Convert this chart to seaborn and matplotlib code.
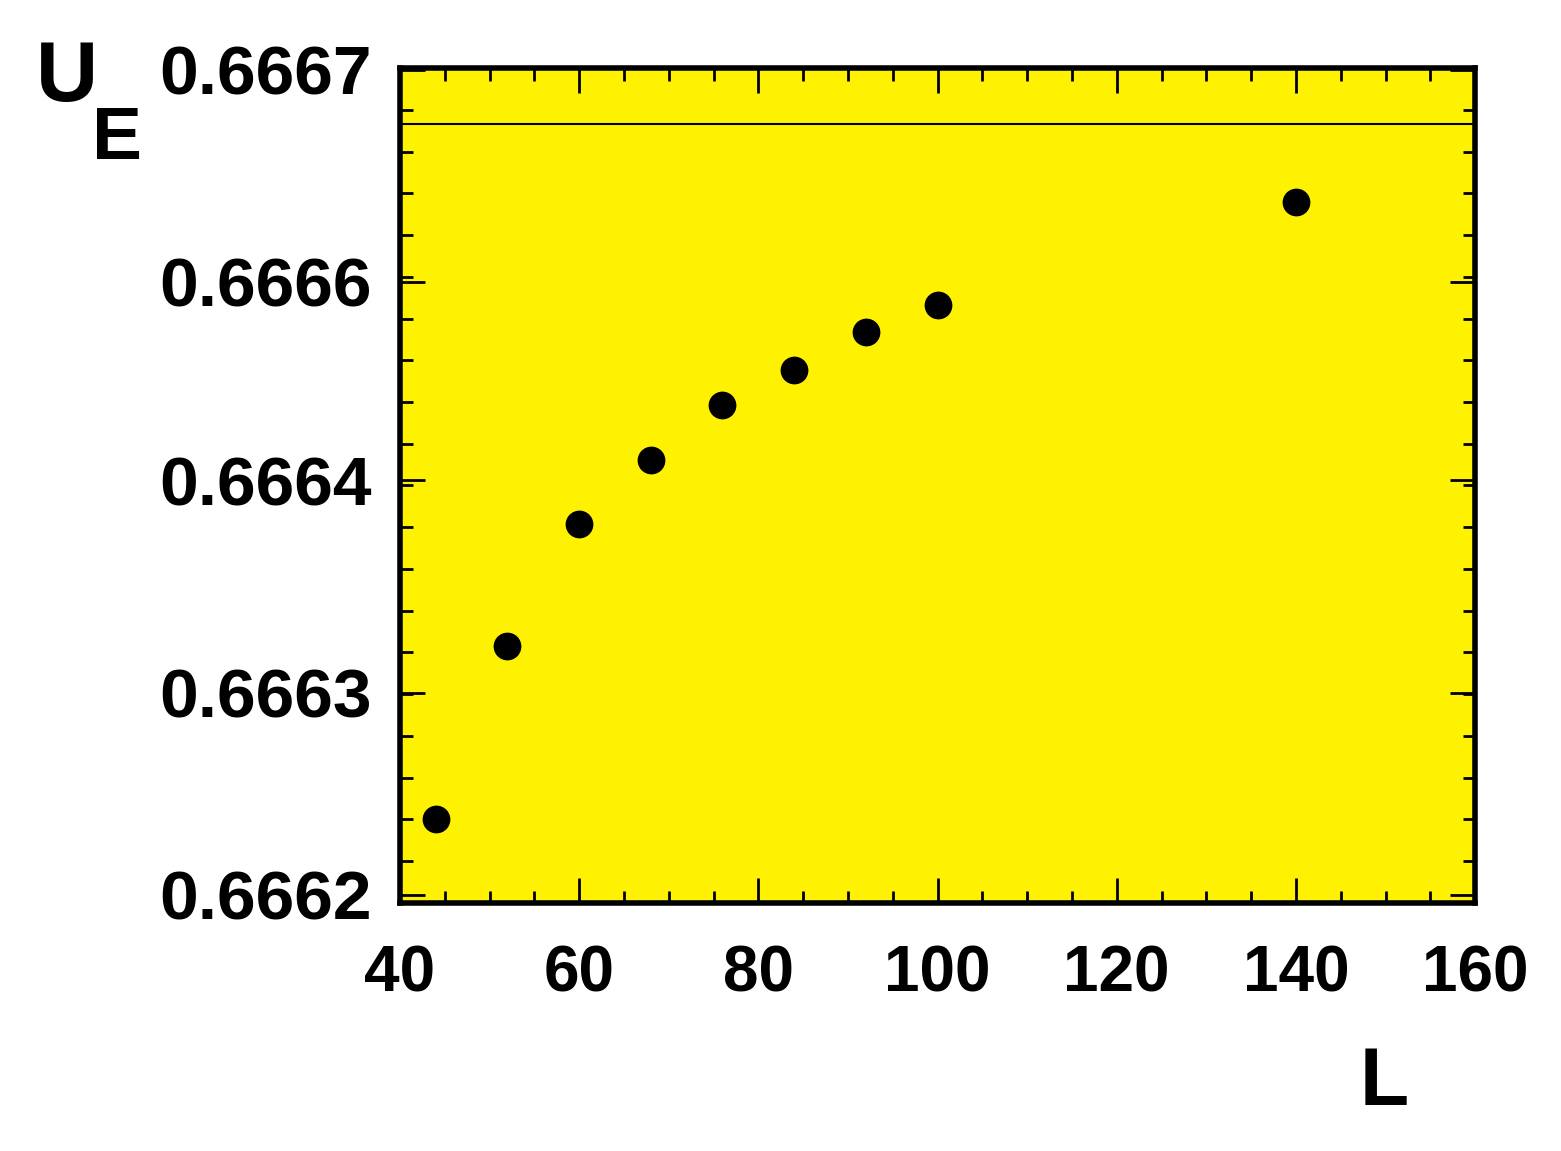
import numpy as np
import pandas as pd
import seaborn as sns
import matplotlib.pyplot as plt

# data
L = [44, 52, 60, 68, 76, 84, 92, 100, 140]
U_E = [0.666250, 0.666354, 0.666427, 0.666465, 0.666498, 0.666519, 0.666542, 0.666558, 0.666620]
limit = 2.0 / 3.0

xticks = [40, 60, 80, 100, 120, 140, 160]
ytick_pos = [0.666699, 0.666572, 0.666453, 0.666326, 0.666205]
ytick_labels = ["0.6667", "0.6666", "0.6664", "0.6663", "0.6662"]

df = pd.DataFrame({"L": L, "U_E": U_E})

sns.set_theme(style="ticks")
plt.rcParams['font.family'] = ['Liberation Sans', 'DejaVu Sans']
plt.rcParams['font.weight'] = 'bold'
plt.rcParams['text.color'] = 'black'
plt.rcParams['xtick.color'] = 'black'
plt.rcParams['ytick.color'] = 'black'
plt.rcParams['axes.labelcolor'] = 'black'

fig = plt.figure(figsize=(15.61, 11.51), dpi=100)
ax = fig.add_axes([0.2562, 0.2155, 0.6888, 0.7254])
ax.set_facecolor('#fff200')

ax.axhline(limit, color='black', lw=1.5, zorder=1)
sns.scatterplot(data=df, x="L", y="U_E", ax=ax, color='black', s=400,
                edgecolor='black', linewidth=0, zorder=3, legend=False)

ax.set_xlim(40, 160)
ax.set_ylim(0.6662, 0.6667)
ax.set_xticks(xticks)
ax.set_xticklabels([str(v) for v in xticks], fontsize=46, fontweight='bold')
ax.set_yticks(ytick_pos)
ax.set_yticklabels(ytick_labels, fontsize=50, fontweight='bold')
ax.set_xticks(np.arange(40, 161, 5), minor=True)
ax.set_yticks(np.arange(0.6662, 0.66671, 0.000025), minor=True)

ax.tick_params(which='major', direction='in', length=18, width=2,
               top=True, right=True, pad=0, colors='black')
ax.tick_params(which='minor', direction='in', length=9, width=2,
               top=True, right=True, colors='black')
ax.tick_params(axis='x', which='major', pad=30)
ax.tick_params(axis='y', which='major', pad=20)

for sp in ax.spines.values():
    sp.set_linewidth(4)
    sp.set_color('black')

ax.set_xlabel("")
ax.set_ylabel("")
fig.text(0.043, 0.931, "U", fontsize=62, fontweight='bold', ha='center', va='center')
fig.text(0.075, 0.879, "E", fontsize=54, fontweight='bold', ha='center', va='center')
fig.text(0.887, 0.058, "L", fontsize=58, fontweight='bold', ha='center', va='center')

fig.savefig("out.png", dpi=100)
